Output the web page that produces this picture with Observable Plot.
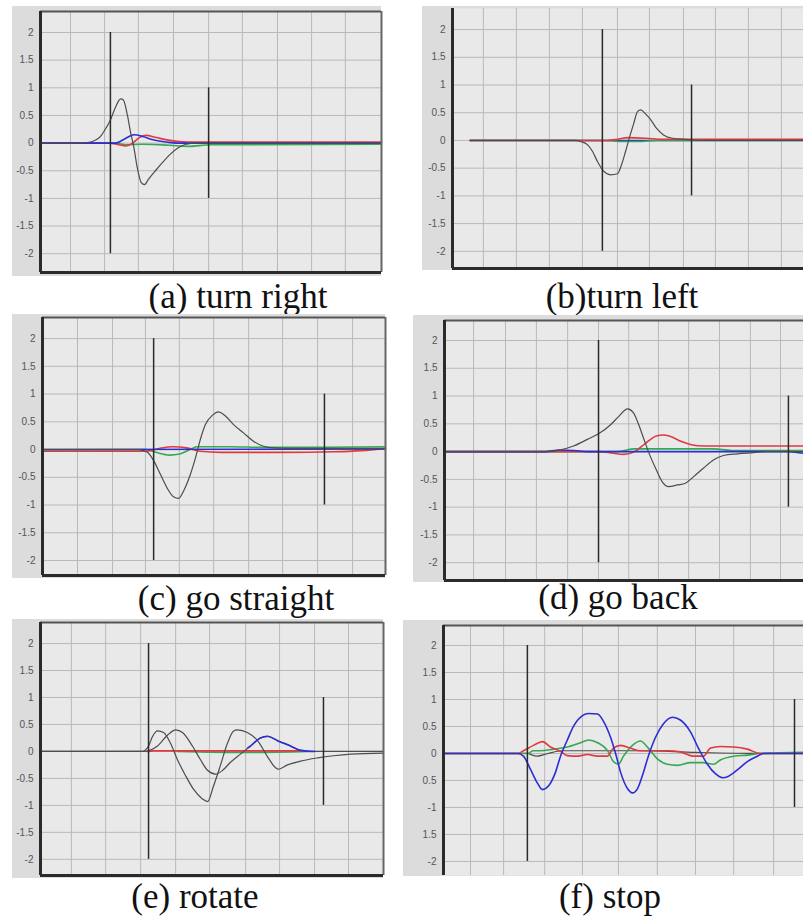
<!DOCTYPE html>
<html><head><meta charset="utf-8">
<script src="https://cdn.jsdelivr.net/npm/d3@7"></script>
<script src="https://cdn.jsdelivr.net/npm/@observablehq/plot@0.6"></script>
<style>
body{margin:0;background:#fff;width:803px;height:922px;position:relative;overflow:hidden;}
.panel{position:absolute;}
.cap{position:absolute;font-family:"Liberation Serif",Tinos,"Times New Roman",Times,"DejaVu Serif",serif;font-size:35px;color:#111;white-space:nowrap;transform:translateX(-50%);line-height:1;}
</style></head><body>
<script>
// ---------- data ----------
const captions = ["(a) turn right", "(b)turn left", "(c) go straight", "(d) go back", "(e) rotate", "(f) stop"];
const yTicks = [2, 1.5, 1, 0.5, 0, -0.5, -1, -1.5, -2];
const yLabels = ["2", "1.5", "1", "0.5", "0", "-0.5", "-1", "-1.5", "-2"];
const fLabels = ["2", "1.5", "1", "0.5", "0", "0.5", "-1", "1.5", "-2"];

// (a) turn right  — [sample, value]
const aBlack = [[0,0],[11.7,0],[14.7,0.02],[17.6,0.12],[19,0.25],[20.5,0.42],[22,0.65],[23.5,0.8],[24.3,0.78],[25.5,0.5],[26.4,0.2],[27.3,-0.05],[28.4,-0.45],[29.6,-0.72],[30.5,-0.75],[31.7,-0.65],[33.7,-0.5],[35.8,-0.35],[38.1,-0.2],[40.5,-0.08],[42.8,-0.02],[45.5,0],[100,0]];
const aBlue = [[0,0],[22,0],[24,0.05],[26,0.12],[27.5,0.15],[30,0.12],[33,0.06],[37,0.02],[40,0],[100,0]];
const aRed = [[0,0],[20,0],[23,-0.03],[25,-0.05],[27,0],[29,0.1],[31,0.14],[34,0.1],[38,0.05],[43,0.02],[100,0.02]];
const aGreen = [[0,0],[22,0],[25,-0.03],[30,-0.02],[38,-0.04],[43,-0.06],[50,-0.03],[100,-0.02]];
const aGrid = [8.8,18.8,28.7,39,49.3,59.2,69.5,79.5,89.4];
const aMarks = [[20.5,-2,2],[49.3,-1,1]];

// (b) turn left
const bBlack = [[5,0],[35,0],[36.5,-0.02],[38.5,-0.08],[39.9,-0.2],[41.3,-0.38],[43,-0.55],[45,-0.62],[47,-0.6],[48.1,-0.45],[49.3,-0.2],[50.4,0.05],[51.6,0.3],[52.7,0.52],[53.6,0.55],[55,0.48],[56.4,0.38],[58.1,0.22],[60.1,0.1],[62.7,0.04],[66.4,0.02],[70.7,0],[100,0]];
const bBlue = [[5,0],[100,0]];
const bRed = [[5,0],[44,0],[47,0.02],[50,0.05],[55,0.04],[60,0.02],[100,0.02]];
const bGreen = [[5,0],[44,0],[48,-0.02],[53,-0.02],[58,0],[100,0]];
const bGrid = [8.8,18.2,27.6,37,47,56.1,65.8,74.9,84.3,93.7];
const bMarks = [[42.7,-2,2],[68.1,-1,1]];

// (c) go straight
const cBlack = [[0,0],[28,0],[30.6,-0.05],[32.4,-0.2],[34.4,-0.45],[36.4,-0.7],[38.2,-0.85],[39.7,-0.88],[41.1,-0.75],[43.1,-0.45],[44.6,-0.15],[46.1,0.2],[47.5,0.45],[49.6,0.62],[51.3,0.68],[53.4,0.6],[55.7,0.45],[58.6,0.3],[61.5,0.15],[64.4,0.06],[67.3,0.03],[75,0.02],[100,0.02]];
const cBlue = [[0,0],[100,0.01]];
const cRed = [[0,-0.03],[30,-0.03],[34,0.02],[38,0.05],[42,0.03],[46,-0.03],[52,-0.05],[70,-0.05],[85,-0.04],[93,-0.02],[100,0.02]];
const cGreen = [[0,0],[30,0],[33,-0.05],[37,-0.1],[40,-0.08],[43,0],[45,0.05],[55,0.05],[64,0.04],[80,0.04],[100,0.05]];
const cGrid = [10.2,20.4,30,39.9,49.9,60.1,70,80.2,90.4];
const cMarks = [[32.4,-2,2],[82.2,-1,1]];

// (d) go back
const dBlack = [[0,0],[28.7,0],[32.3,0.03],[35.9,0.1],[39.8,0.22],[42.9,0.32],[46.2,0.48],[48.5,0.63],[51,0.77],[52.6,0.7],[54,0.5],[55.4,0.25],[56.8,0],[58.8,-0.3],[60.7,-0.55],[62.4,-0.63],[64.9,-0.6],[67.1,-0.57],[69.4,-0.45],[72.1,-0.3],[74.9,-0.15],[77.7,-0.07],[81.6,-0.04],[86.1,-0.02],[90,0],[100,0]];
const dBlue = [[0,0],[28,0],[32,0.03],[36,0.02],[40,0],[96,0],[100,-0.03]];
const dRed = [[0,0],[43,0],[47,-0.03],[50,-0.05],[53,0],[56,0.15],[59,0.28],[61,0.3],[63,0.27],[66,0.18],[69,0.12],[72,0.1],[100,0.1]];
const dGreen = [[0,0],[48,0],[53,0.05],[75,0.05],[80,0.02],[100,0.02]];
const dGrid = [8.1,17,25.6,34.3,42.9,51.3,59.6,68,76.6,85.2,93.6];
const dMarks = [[42.9,-2,2],[95.8,-1,1]];

// (e) rotate
const eBlack = [[0,0],[29.7,0],[31.5,0.1],[32.7,0.28],[34.1,0.38],[35.9,0.35],[37.9,0.15],[39.9,-0.15],[42.3,-0.45],[44.6,-0.7],[47.2,-0.88],[48.7,-0.93],[50.4,-0.65],[52.5,-0.25],[54.5,0.15],[56.3,0.38],[57.4,0.4],[60.3,0.35],[63.3,0.2],[66.2,-0.1],[68.5,-0.3],[69.4,-0.33],[72,-0.25],[75.8,-0.18],[80.8,-0.12],[85.4,-0.08],[90.4,-0.05],[100,-0.03]];
const eBlack2 = [[0,0],[30,0],[34.1,0.1],[37,0.3],[39.4,0.4],[41.4,0.35],[44.3,0.1],[46.6,-0.15],[48.7,-0.35],[51,-0.42],[53.1,-0.35],[55.4,-0.2],[58.3,-0.05],[61.2,0.1],[64.1,0.25],[66.2,0.28],[69.1,0.2],[72.9,0.1],[75.8,0.02],[78.7,0],[100,0]];
const eBlue = [[60.5,0.07],[61.2,0.1],[64.1,0.25],[66.2,0.28],[69.1,0.2],[72.9,0.1],[75.8,0.02],[80,0]];
const eRed = [[31,0],[33,0.01],[76,0.01]];
const eGreen = [[40,0],[60,-0.02],[78,0]];
const eGrid = [9,19,29.2,39.4,49.3,59.8,69.7,79.9,89.8];
const eMarks = [[31.5,-2,2],[82.5,-1,1]];

// (f) stop
const fBlack = [[0,0],[23,0],[26,-0.05],[29,0],[33,0.05],[45,0.05],[55,0.05],[70,0.02],[88,0],[100,0]];
const fBlue = [[0,0],[20.6,0],[22.2,-0.05],[24.2,-0.3],[26.1,-0.55],[27.5,-0.67],[29.2,-0.6],[31.1,-0.35],[32.5,-0.05],[34.4,0.25],[36.1,0.5],[38.6,0.7],[40.3,0.74],[42.8,0.73],[44.4,0.6],[46.4,0.3],[47.8,0],[49.2,-0.35],[51.1,-0.65],[52.5,-0.73],[53.9,-0.65],[55.3,-0.4],[56.9,-0.05],[58.9,0.3],[61.1,0.55],[63.6,0.67],[65.8,0.62],[68.6,0.4],[70.8,0.1],[73.3,-0.2],[75.6,-0.38],[77.5,-0.45],[79.2,-0.42],[81.7,-0.3],[84.4,-0.15],[87.2,-0.05],[88.9,0],[100,0]];
const fRed = [[0,0],[20.6,0],[22.2,0.05],[25,0.15],[27.5,0.22],[29.7,0.12],[32.5,0.04],[34.4,-0.04],[37.2,-0.05],[40,-0.02],[42.8,-0.05],[45.6,-0.05],[47.2,0.1],[49.2,0.15],[51.9,0.1],[54.7,0.05],[62.2,0.05],[65.8,0.03],[69.4,-0.05],[72.2,-0.05],[74.2,0.1],[76.9,0.13],[80.6,0.12],[84.4,0.08],[88,0],[100,0]];
const fGreen = [[0,0],[23.3,0],[25,0.05],[26.9,0.05],[30.6,0.08],[34.4,0.12],[38.1,0.2],[40.3,0.25],[42.8,0.2],[45.6,0.05],[47.2,-0.15],[48.6,-0.2],[50,-0.05],[52.5,0.15],[54.7,0.23],[56.9,0.1],[59.4,-0.1],[62.2,-0.2],[65,-0.22],[68.6,-0.17],[72.2,-0.17],[75,-0.2],[76.9,-0.12],[80.6,-0.05],[84.4,-0.03],[88,0],[100,0.02]];
const fGrid = [7.5,16.7,28.1,38.6,48.6,59.4,70,80.6,91.7];
const fMarks = [[23.3,-2,2],[97.5,-1,1]];

// ---------- layout ----------
const colors = {black:"#4d4d4d", blue:"#2d2dd6", red:"#e0393e", green:"#34a853"};
const panels = [
  {cap:captions[0], cx:238, cy:308, box:[12,6,40,11,381,272,276], y:[-2.34,2.38], grid:aGrid, marks:aMarks, labels:yLabels, series:[["green",aGreen],["red",aRed],["blue",aBlue],["black",aBlack]], borders:["left","bottom","top","right"]},
  {cap:captions[1], cx:622, cy:308, box:[422,6,452,8,803,268,270], y:[-2.31,2.38], grid:bGrid, marks:bMarks, labels:yLabels, series:[["blue",bBlue],["green",bGreen],["red",bRed],["black",bBlack]], borders:["left","bottom"]},
  {cap:captions[2], cx:236, cy:610, box:[12,314,42,317,385,575,578], y:[-2.27,2.38], grid:cGrid, marks:cMarks, labels:yLabels, series:[["green",cGreen],["red",cRed],["blue",cBlue],["black",cBlack]], borders:["left","bottom","top","right"]},
  {cap:captions[3], cx:618, cy:609, box:[413,315,444,320,803,580,582], y:[-2.32,2.36], grid:dGrid, marks:dMarks, labels:yLabels, series:[["green",dGreen],["red",dRed],["blue",dBlue],["black",dBlack]], borders:["left","bottom","top"]},
  {cap:captions[4], cx:195, cy:908, box:[12,619,40,622,383,875,878], y:[-2.3,2.39], grid:eGrid, marks:eMarks, labels:yLabels, series:[["green",eGreen],["red",eRed],["black",eBlack],["black",eBlack2],["blue",eBlue]], borders:["left","bottom","top","right"]},
  {cap:captions[5], cx:610, cy:908, box:[403,620,443,625,803,875,876], y:[-2.26,2.37], grid:fGrid, marks:fMarks, labels:fLabels, series:[["black",fBlack],["green",fGreen],["red",fRed],["blue",fBlue]], borders:["left","top"]}
];

for (const p of panels) {
  const [sl, st, fl, ft, fr, fb, sb] = p.box;
  const labelMap = new Map(yTicks.map((t, i) => [t, p.labels[i]]));
  const marks = [
    Plot.frame({fill:"#e9e9e9", stroke:"none"}),
    Plot.ruleX(p.grid, {stroke:"#b9b9b9", strokeWidth:1}),
    Plot.ruleY(yTicks, {stroke:"#b9b9b9", strokeWidth:1}),
    Plot.axisY(yTicks, {tickSize:0, tickPadding:7, tickFormat:d => labelMap.get(d), fill:"#555", fontSize:10, fontFamily:"Liberation Sans, Arial, sans-serif"})
  ];
  for (const [name, data] of p.series) {
    marks.push(Plot.line(data, {x:d => d[0], y:d => d[1], stroke:colors[name], strokeWidth: name === "black" ? 1.2 : 1.6, curve:"monotone-x"}));
  }
  marks.push(Plot.ruleX(p.marks, {x:d => d[0], y1:d => d[1], y2:d => d[2], stroke:"#2a2a2a", strokeWidth:1.5}));
  if (p.borders.includes("top")) marks.push(Plot.ruleY([p.y[1]], {stroke:"#555", strokeWidth:2}));
  if (p.borders.includes("right")) marks.push(Plot.ruleX([100], {stroke:"#666", strokeWidth:2}));
  if (p.borders.includes("left")) marks.push(Plot.ruleX([0], {stroke:"#2b2b2b", strokeWidth:3}));
  if (p.borders.includes("bottom")) marks.push(Plot.ruleY([p.y[0]], {stroke:"#2b2b2b", strokeWidth:3}));

  const svg = Plot.plot({
    width: fr - sl, height: sb - st,
    marginLeft: fl - sl, marginRight: 0, marginTop: ft - st, marginBottom: sb - fb,
    x: {domain:[0,100], axis:null},
    y: {domain:p.y, axis:null},
    style: {background:"#dcdcdc", overflow:"visible"},
    marks
  });
  svg.classList.add("panel");
  svg.style.left = sl + "px";
  svg.style.top = st + "px";
  svg.style.maxWidth = "none";
  document.body.appendChild(svg);

  const cap = document.createElement("div");
  cap.className = "cap";
  cap.textContent = p.cap;
  cap.style.left = p.cx + "px";
  cap.style.top = (p.cy - 29) + "px";
  document.body.appendChild(cap);
}
</script>
</body></html>
